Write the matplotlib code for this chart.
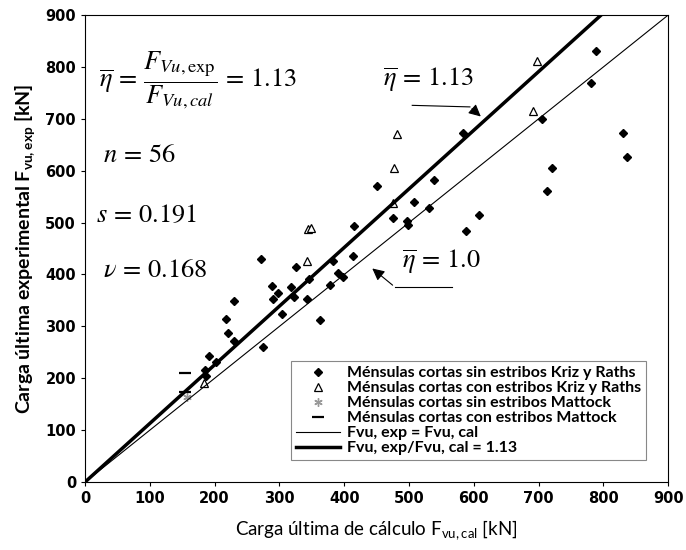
import numpy as np
import matplotlib
matplotlib.use("Agg")
import matplotlib.pyplot as plt

# data [kN]
kr_sin_cal = [789, 781, 706, 830, 837, 720, 713, 584, 588, 608, 539, 531, 507, 497, 498,
              476, 451, 415, 414, 383, 391, 398, 378, 363, 345, 342, 326, 318, 323, 304,
              290, 298, 288, 272, 274, 230, 218, 220, 230, 191, 202, 185, 187]
kr_sin_exp = [830, 769, 699, 673, 627, 605, 560, 673, 484, 514, 583, 529, 539, 503, 495,
              509, 571, 493, 435, 426, 403, 396, 379, 313, 391, 353, 414, 376, 357, 323,
              352, 365, 378, 430, 260, 349, 315, 288, 271, 243, 231, 216, 205]
kr_con_cal = [697, 692, 481, 477, 476, 344, 348, 342, 184]
kr_con_exp = [811, 715, 670, 606, 537, 487, 489, 426, 190]
mat_sin_cal = [158]
mat_sin_exp = [163]
mat_con_cal = [155, 155]
mat_con_exp = [211, 173]
eta_mean = 1.13

labels = ["Ménsulas cortas sin estribos Kriz y Raths",
          "Ménsulas cortas con estribos Kriz y Raths",
          "Ménsulas cortas sin estribos Mattock",
          "Ménsulas cortas con estribos Mattock",
          "Fvu, exp = Fvu, cal",
          "Fvu, exp/Fvu, cal = 1.13"]

plt.rcParams['mathtext.fontset'] = 'custom'
plt.rcParams['mathtext.rm'] = 'Lato'
plt.rcParams['mathtext.bf'] = 'Lato:bold'

fig = plt.figure(figsize=(6.86, 5.5), dpi=100)
ax = fig.add_axes([0.124, 0.1236, 0.85, 0.849])

xl = np.array([0, 900])
ax.plot(kr_sin_cal, kr_sin_exp, 'D', color='black', ms=4.5, ls='none', label=labels[0])
ax.plot(kr_con_cal, kr_con_exp, '^', mfc='white', mec='black', ms=6, mew=0.9, ls='none', label=labels[1])
ax.plot(mat_sin_cal, mat_sin_exp, marker=(6, 2, 0), color='#999999', ms=6, mew=1, ls='none', label=labels[2])
ax.plot(mat_con_cal, mat_con_exp, '_', color='black', ms=8, mew=1.6, ls='none', label=labels[3])
ax.plot(xl, xl, color='black', lw=0.8, label=labels[4])
ax.plot(xl, eta_mean * xl, color='black', lw=2.5, label=labels[5])

ax.set_xlim(0, 900)
ax.set_ylim(0, 900)
ax.set_xticks(np.arange(0, 901, 100))
ax.set_yticks(np.arange(0, 901, 100))
ax.tick_params(direction='out', length=3, width=0.8)
for t in ax.get_xticklabels() + ax.get_yticklabels():
    t.set_family(['Liberation Sans Narrow', 'DejaVu Sans'])
    t.set_fontweight('bold')
    t.set_fontsize(10.5)

ax.set_xlabel(r'Carga última de cálculo F$_{\mathrm{vu,cal}}$ [kN]', family='Lato', fontsize=13.5, labelpad=9)
ax.set_ylabel(r'Carga última experimental F$_{\mathbf{vu,exp}}$ [kN]', family='Lato', fontweight='bold',
              fontsize=14, labelpad=5)

leg = ax.legend(loc='lower right', bbox_to_anchor=(0.975, 0.03), frameon=True, fancybox=False,
                edgecolor='#888888', framealpha=1, handlelength=2.8, handletextpad=0.4,
                borderpad=0.3, labelspacing=0.05, prop={'family': 'Lato', 'weight': 'bold', 'size': 11.5})
leg.get_frame().set_linewidth(0.8)

# statistics text
tkw = dict(fontsize=19, math_fontfamily='stix', family='STIXGeneral', va='center', ha='left')
ax.text(22, 775, r'$\overline{\eta}\,=\,\dfrac{F_{Vu,\mathrm{exp}}}{F_{Vu,cal}}\,=\,1.13$', **tkw)
ax.text(27, 628, r'$n\,=\,56$', **tkw)
ax.text(17, 512, r'$s\,=\,0.191$', **tkw)
ax.text(27, 406, r'$\nu\,=\,0.168$', **tkw)

# eta annotations
ax.text(460, 775, r'$\overline{\eta}\,=\,1.13$', **tkw)
ax.plot([505, 594], [726, 723], color='black', lw=0.8)
ax.annotate('', xy=(614, 701), xytext=(594, 723),
            arrowprops=dict(arrowstyle='-|>', color='black', lw=0.8, mutation_scale=18))
ax.text(489, 424, r'$\overline{\eta}\,=\,1.0$', **tkw)
ax.plot([478, 566], [376, 376], color='black', lw=0.8)
ax.annotate('', xy=(440, 415), xytext=(478, 376),
            arrowprops=dict(arrowstyle='-|>', color='black', lw=0.8, mutation_scale=18,
                            facecolor='white'))

fig.savefig('out.png', dpi=100)
